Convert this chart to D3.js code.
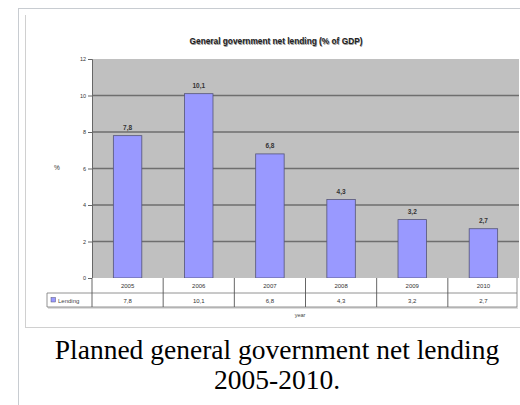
<!DOCTYPE html>
<html>
<head>
<meta charset="utf-8">
<script src="https://cdn.jsdelivr.net/npm/d3@7"></script>
<style>
  html, body { margin: 0; padding: 0; background: #fff; }
  svg { display: block; }
</style>
</head>
<body>
<svg id="chart" width="520" height="405"></svg>
<script>
const years = ["2005", "2006", "2007", "2008", "2009", "2010"];
const lending = [7.8, 10.1, 6.8, 4.3, 3.2, 2.7];
const valueLabels = ["7,8", "10,1", "6,8", "4,3", "3,2", "2,7"];
const yTicks = [0, 2, 4, 6, 8, 10, 12];
const seriesName = "Lending";
const chartTitle = "General government net lending (% of GDP)";
const yLabel = "%";
const xLabel = "year";
const captionLines = ["Planned general government net lending", "2005-2010."];

(function () {
const svg = d3.select("#chart");
const FONT = "Arial, 'Liberation Sans', sans-serif";

// wiki thumb frame
svg.append("line").attr("x1", 18.5).attr("x2", 18.5).attr("y1", 8).attr("y2", 405).attr("stroke", "#c8ccd1");
svg.append("line").attr("x1", 18).attr("x2", 520).attr("y1", 8.5).attr("y2", 8.5).attr("stroke", "#c8ccd1");
// image frame
svg.append("line").attr("x1", 25.5).attr("x2", 25.5).attr("y1", 15).attr("y2", 327).attr("stroke", "#d0d0d0");
svg.append("line").attr("x1", 25).attr("x2", 520).attr("y1", 327.5).attr("y2", 327.5).attr("stroke", "#d0d0d0");

const pL = 92, pR = 519, pT = 59, pB = 278;
const x = d3.scaleBand().domain(years).range([pL, pR]).paddingInner(0.6).paddingOuter(0.3);
const xCell = d3.scaleBand().domain(years).range([pL, pR]);
const y = d3.scaleLinear().domain([0, 12]).range([pB, pT]);

// title
svg.append("text").attr("x", 276).attr("y", 44).attr("text-anchor", "middle")
  .attr("font-family", FONT).attr("font-weight", "bold")
  .attr("font-size", 8.3).attr("fill", "#999").attr("transform", "translate(0.7,0.7)").text(chartTitle);
svg.append("text").attr("x", 276).attr("y", 44).attr("text-anchor", "middle")
  .attr("font-family", FONT).attr("font-weight", "bold")
  .attr("font-size", 8.3).attr("fill", "#222").text(chartTitle);

// plot background
svg.append("rect").attr("x", pL).attr("y", pT).attr("width", pR - pL).attr("height", pB - pT)
  .attr("fill", "#c0c0c0");

// gridlines
svg.append("g").selectAll("line").data(yTicks.filter(d => d > 0 && d < 12)).join("line")
  .attr("x1", pL).attr("x2", pR).attr("y1", d => y(d)).attr("y2", d => y(d))
  .attr("stroke", "#6e6e6e").attr("stroke-width", 1.3);

// y axis
const yAxis = d3.axisLeft(y).tickValues(yTicks).tickSize(4).tickFormat(d3.format("d"));
const gy = svg.append("g").attr("transform", `translate(${pL},0)`).call(yAxis);
gy.select(".domain").attr("stroke", "#666");
gy.selectAll(".tick line").attr("stroke", "#666");
gy.selectAll(".tick text").attr("font-size", 5.5).attr("fill", "#333")
  .attr("font-family", FONT).attr("x", -6);

svg.append("text").attr("x", 57).attr("y", 170).attr("text-anchor", "middle")
  .attr("font-family", FONT).attr("font-size", 6.5).attr("fill", "#333").text(yLabel);

// bars
svg.append("g").selectAll("rect").data(years).join("rect")
  .attr("x", d => x(d)).attr("width", x.bandwidth())
  .attr("y", (d, i) => y(lending[i])).attr("height", (d, i) => y(0) - y(lending[i]))
  .attr("fill", "#9999ff").attr("stroke", "#555577").attr("stroke-width", 0.8);

// value labels
svg.append("g").selectAll("text").data(years).join("text")
  .attr("x", d => x(d) + x.bandwidth() / 2).attr("y", (d, i) => y(lending[i]) - 6)
  .attr("text-anchor", "middle").attr("font-family", FONT).attr("font-weight", "bold")
  .attr("font-size", 6.5).attr("fill", "#333").text((d, i) => valueLabels[i]);

// data table
const r1 = pB, r2 = 293, r3 = 307, legL = 47;
const tg = svg.append("g");
tg.append("rect").attr("x", pL).attr("y", r1).attr("width", pR - pL - 2).attr("height", r3 - r1)
  .attr("fill", "#fff");
tg.append("rect").attr("x", legL).attr("y", r2).attr("width", pL - legL).attr("height", r3 - r2)
  .attr("fill", "#fff");
tg.append("line").attr("x1", legL + 1).attr("x2", pR - 1).attr("y1", r3 + 1).attr("y2", r3 + 1).attr("stroke", "#bbb");
tg.append("line").attr("x1", legL).attr("x2", pR - 2).attr("y1", r2).attr("y2", r2).attr("stroke", "#777").attr("stroke-width", 0.8);
tg.append("line").attr("x1", legL).attr("x2", pR - 2).attr("y1", r3).attr("y2", r3).attr("stroke", "#777").attr("stroke-width", 0.8);
tg.append("line").attr("x1", legL).attr("x2", legL).attr("y1", r2).attr("y2", r3).attr("stroke", "#777").attr("stroke-width", 0.8);
tg.append("line").attr("x1", pR - 2).attr("x2", pR - 2).attr("y1", r1).attr("y2", r3).attr("stroke", "#777").attr("stroke-width", 0.8);
tg.selectAll("line.div").data(years).join("line").attr("class", "div")
  .attr("x1", d => xCell(d)).attr("x2", d => xCell(d)).attr("y1", r1).attr("y2", r3)
  .attr("stroke", "#555").attr("stroke-width", 0.9);
tg.selectAll("text.yr").data(years).join("text").attr("class", "yr")
  .attr("x", d => xCell(d) + xCell.bandwidth() / 2).attr("y", r1 + 10).attr("text-anchor", "middle")
  .attr("font-family", FONT).attr("font-size", 6).attr("fill", "#333").text(d => d);
tg.selectAll("text.val").data(years).join("text").attr("class", "val")
  .attr("x", d => xCell(d) + xCell.bandwidth() / 2).attr("y", r2 + 10).attr("text-anchor", "middle")
  .attr("font-family", FONT).attr("font-size", 6).attr("fill", "#333").text((d, i) => valueLabels[i]);
tg.append("rect").attr("x", 51).attr("y", r2 + 4.5).attr("width", 4.5).attr("height", 4.5)
  .attr("fill", "#9999ff").attr("stroke", "#555577").attr("stroke-width", 0.5);
tg.append("text").attr("x", 58).attr("y", r2 + 10).attr("font-family", FONT)
  .attr("font-size", 6).attr("fill", "#444").text(seriesName);

svg.append("text").attr("x", 300).attr("y", 317).attr("text-anchor", "middle")
  .attr("font-family", FONT).attr("font-size", 5.5).attr("fill", "#444").text(xLabel);

// caption
svg.append("g").selectAll("text").data(captionLines).join("text")
  .attr("x", 277).attr("y", (d, i) => 359 + i * 30).attr("text-anchor", "middle")
  .attr("font-family", "'Liberation Serif', 'Times New Roman', serif").attr("font-size", 27.5)
  .attr("fill", "#000").text(d => d);
})();
</script>
</body>
</html>
